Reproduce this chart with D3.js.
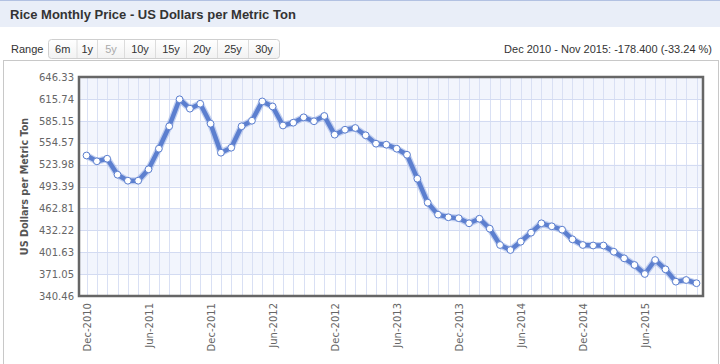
<!DOCTYPE html>
<html>
<head>
<meta charset="utf-8">
<script src="https://cdn.jsdelivr.net/npm/d3@7"></script>
<style>
  html, body { margin: 0; padding: 0; background: #fff; }
  svg { display: block; }
</style>
</head>
<body>
<svg id="chart" width="720" height="364"></svg>
<script>
// ---- data ----
const months = [
  "Dec-2010",
  "Jan-2011","Feb-2011","Mar-2011","Apr-2011","May-2011","Jun-2011","Jul-2011","Aug-2011","Sep-2011","Oct-2011","Nov-2011","Dec-2011",
  "Jan-2012","Feb-2012","Mar-2012","Apr-2012","May-2012","Jun-2012","Jul-2012","Aug-2012","Sep-2012","Oct-2012","Nov-2012","Dec-2012",
  "Jan-2013","Feb-2013","Mar-2013","Apr-2013","May-2013","Jun-2013","Jul-2013","Aug-2013","Sep-2013","Oct-2013","Nov-2013","Dec-2013",
  "Jan-2014","Feb-2014","Mar-2014","Apr-2014","May-2014","Jun-2014","Jul-2014","Aug-2014","Sep-2014","Oct-2014","Nov-2014","Dec-2014",
  "Jan-2015","Feb-2015","Mar-2015","Apr-2015","May-2015","Jun-2015","Jul-2015","Aug-2015","Sep-2015","Oct-2015","Nov-2015"
];
const prices = [
  536.7,
  528.6, 532.2, 509.9, 501.5, 501.5, 517.4, 546.2, 577.5, 615.2, 602.1, 609.0, 581.1,
  540.6, 547.6, 577.5, 585.3, 612.2, 605.2, 578.6, 582.5, 590.0, 584.5, 591.9, 565.8,
  572.7, 575.1, 564.9, 553.2, 551.8, 546.2, 537.7, 504.3, 470.8, 454.1, 450.4, 449.1,
  442.0, 448.4, 434.5, 411.7, 404.7, 416.3, 428.9, 442.0, 437.8, 433.1, 419.6, 411.7,
  411.0, 411.0, 402.3, 393.1, 383.8, 371.2, 390.7, 377.7, 360.5, 362.8, 358.3
];
const xTickLabels = ["Dec-2010","Jun-2011","Dec-2011","Jun-2012","Dec-2012","Jun-2013","Dec-2013","Jun-2014","Dec-2014","Jun-2015"];
const yTicks = [340.46, 371.05, 401.63, 432.22, 462.81, 493.39, 523.98, 554.57, 585.15, 615.74, 646.33];
const rangeButtons = ["6m","1y","5y","10y","15y","20y","25y","30y"];
const titleText = "Rice Monthly Price - US Dollars per Metric Ton";
const changeText = "Dec 2010 - Nov 2015: -178.400 (-33.24 %)";
const yAxisTitle = "US Dollars per Metric Ton";

// ---- layout ----
const svg = d3.select("#chart");
const plot = { left: 79, right: 703, top: 77, bottom: 296 };

// title band
svg.append("rect").attr("x", 0).attr("y", 0).attr("width", 720).attr("height", 27).attr("fill", "#e9eef8");
svg.append("line").attr("x1", 0).attr("x2", 720).attr("y1", 0.5).attr("y2", 0.5).attr("stroke", "#b2c1e2");
svg.append("text").attr("x", 10).attr("y", 19)
  .attr("font-family", "Liberation Sans, Arial, sans-serif").attr("font-size", 13).attr("font-weight", "bold")
  .attr("fill", "#333").text(titleText);

// outer panel
svg.append("rect").attr("x", 3.5).attr("y", 60.5).attr("width", 715).attr("height", 320)
  .attr("fill", "none").attr("stroke", "#c8c8c8");

// range selector
const uiFont = "Liberation Sans, Arial, sans-serif";
svg.append("text").attr("x", 11).attr("y", 53).attr("font-family", uiFont).attr("font-size", 11)
  .attr("fill", "#333").text("Range");
const btnEdges = [48.5, 77, 97.5, 124.5, 155.5, 186.5, 217.5, 248.5, 279.5];
const defs = svg.append("defs");
const grad = defs.append("linearGradient").attr("id", "btnGrad").attr("x1", 0).attr("x2", 0).attr("y1", 0).attr("y2", 1);
grad.append("stop").attr("offset", "0%").attr("stop-color", "#ffffff");
grad.append("stop").attr("offset", "100%").attr("stop-color", "#f2f2f2");
svg.append("rect").attr("x", btnEdges[0]).attr("y", 39.5).attr("width", btnEdges[8] - btnEdges[0]).attr("height", 19)
  .attr("rx", 3).attr("fill", "url(#btnGrad)").attr("stroke", "#cfcfcf");
btnEdges.slice(1, 8).forEach(x => {
  svg.append("line").attr("x1", x).attr("x2", x).attr("y1", 40).attr("y2", 58).attr("stroke", "#dcdcdc");
});
rangeButtons.forEach((b, i) => {
  svg.append("text").attr("x", (btnEdges[i] + btnEdges[i + 1]) / 2).attr("y", 53)
    .attr("text-anchor", "middle").attr("font-family", uiFont).attr("font-size", 11)
    .attr("fill", b === "5y" ? "#aaa" : "#333").text(b);
});
svg.append("text").attr("x", 712).attr("y", 53).attr("text-anchor", "end")
  .attr("font-family", uiFont).attr("font-size", 11).attr("fill", "#333").text(changeText);

// scales
const x = d3.scalePoint().domain(months).range([86.5, 696.5]);
const y = d3.scaleLinear().domain([yTicks[0], yTicks[yTicks.length - 1]]).range([plot.bottom, plot.top]);

// plot background bands
const g = svg.append("g");
g.append("rect").attr("x", plot.left).attr("y", plot.top).attr("width", plot.right - plot.left)
  .attr("height", plot.bottom - plot.top).attr("fill", "#fff");
for (let i = 0; i < yTicks.length - 1; i++) {
  if (i % 2 === 1) {
    g.append("rect").attr("x", plot.left).attr("width", plot.right - plot.left)
      .attr("y", y(yTicks[i + 1])).attr("height", y(yTicks[i]) - y(yTicks[i + 1]))
      .attr("fill", "#f2f5fd");
  }
}
// vertical monthly grid
g.selectAll("line.vg").data(months).join("line").attr("class", "vg")
  .attr("x1", d => Math.round(x(d)) + 0.5).attr("x2", d => Math.round(x(d)) + 0.5)
  .attr("y1", plot.top).attr("y2", plot.bottom)
  .attr("stroke", "#d9e0f4").attr("stroke-width", 1);
// horizontal grid
g.selectAll("line.hg").data(yTicks).join("line").attr("class", "hg")
  .attr("x1", plot.left).attr("x2", plot.right)
  .attr("y1", d => Math.round(y(d)) + 0.5).attr("y2", d => Math.round(y(d)) + 0.5)
  .attr("stroke", "#d3dbf2").attr("stroke-width", 1);

// y axis
const yAxis = d3.axisLeft(y).tickValues(yTicks).tickFormat(d3.format(".2f")).tickSize(0).tickPadding(4);
const yg = svg.append("g").attr("transform", `translate(${plot.left - 1},0)`).call(yAxis);
yg.select(".domain").remove();
yg.selectAll("text").attr("font-family", "DejaVu Sans, Verdana, sans-serif").attr("font-size", 10).attr("fill", "#666");

// x axis
const xAxis = d3.axisBottom(x).tickValues(xTickLabels).tickSize(0);
const xg = svg.append("g").attr("transform", `translate(0,${plot.bottom})`).call(xAxis);
xg.select(".domain").remove();
xg.selectAll("text")
  .attr("font-family", "DejaVu Sans, Verdana, sans-serif").attr("font-size", 10).attr("fill", "#666")
  .attr("text-anchor", "end")
  .attr("transform", "rotate(-90)")
  .attr("x", -7).attr("y", 0).attr("dy", "0.35em");

// y axis title
svg.append("text")
  .attr("transform", `translate(28,${(plot.top + plot.bottom) / 2}) rotate(-90)`)
  .attr("text-anchor", "middle")
  .attr("font-family", "DejaVu Sans, Verdana, sans-serif").attr("font-size", 9.6).attr("font-weight", "bold")
  .attr("fill", "#555").text(yAxisTitle);

// line
const line = d3.line().x((d, i) => x(months[i])).y(d => y(d));
svg.append("path").datum(prices).attr("d", line).attr("fill", "none")
  .attr("stroke", "#9db3e6").attr("stroke-width", 7).attr("stroke-linejoin", "round").attr("opacity", 0.6);
svg.append("path").datum(prices).attr("d", line).attr("fill", "none")
  .attr("stroke", "#5c7fcf").attr("stroke-width", 4.5).attr("stroke-linejoin", "round");
svg.selectAll("circle.pt").data(prices).join("circle").attr("class", "pt")
  .attr("cx", (d, i) => x(months[i])).attr("cy", d => y(d)).attr("r", 3.4)
  .attr("fill", "#fff").attr("stroke", "#5c7fcf").attr("stroke-width", 1);

// plot border
svg.append("rect").attr("x", plot.left).attr("y", plot.top).attr("width", plot.right - plot.left)
  .attr("height", plot.bottom - plot.top).attr("fill", "none").attr("stroke", "#666").attr("stroke-width", 2.5);
</script>
</body>
</html>
